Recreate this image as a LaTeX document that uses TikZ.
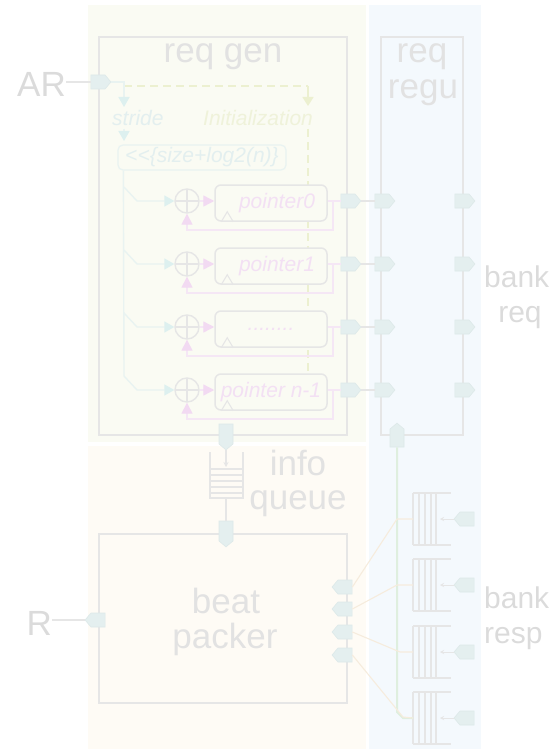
\documentclass[tikz,border=0pt]{standalone}
\usepackage{fontspec}
\setmainfont{Liberation Sans}
\usetikzlibrary{shapes.symbols,arrows.meta,calc}

\definecolor{bgyel}{HTML}{FAFBF3}
\definecolor{bgora}{HTML}{FEFBF5}
\definecolor{bgblu}{HTML}{F4F9FD}
\definecolor{linegray}{HTML}{E6E6E6}
\definecolor{outtext}{HTML}{DBDBDB}
\definecolor{intext}{HTML}{E2E2E2}
\definecolor{portfill}{HTML}{E4EFEF}
\definecolor{portedge}{HTML}{DDE9E9}
\definecolor{cyanhead}{HTML}{DDF0EF}
\definecolor{cyanline}{HTML}{E9F3F1}
\definecolor{cyantext}{HTML}{E3EFEF}
\definecolor{pinkhead}{HTML}{F2DAF2}
\definecolor{pinkline}{HTML}{F5E7F5}
\definecolor{pinktext}{HTML}{F3E0F3}
\definecolor{inittext}{HTML}{EFF2DA}
\definecolor{initline}{HTML}{ECF0D0}
\definecolor{greenline}{HTML}{DFEFDF}
\definecolor{oraline}{HTML}{F6ECDD}

\tikzset{
  bigfont/.style={font=\fontsize{35}{40}\selectfont},
  outlabel/.style={bigfont, text=outtext, inner sep=0pt},
  inlabel/.style={bigfont, text=intext, inner sep=0pt},
  banklabel/.style={font=\fontsize{30}{34}\selectfont, text=outtext, inner sep=0pt},
  smallit/.style={font=\fontsize{21}{24}\selectfont\itshape, inner sep=0pt},
  blockbox/.style={draw=linegray, line width=2pt, inner sep=0pt},
  port/.style={shape=signal, signal pointer angle=100, fill=portfill, draw=portedge,
    line width=0.6pt, minimum width=20pt, minimum height=14pt, inner sep=0pt},
  vport/.style={port, minimum width=14pt, minimum height=20pt},
  reg/.style={draw=linegray, line width=1.5pt, rounded corners=6pt, fill=bgyel,
    minimum width=112pt, minimum height=36pt, inner sep=0pt},
  adder/.style={circle, draw=linegray, line width=1.4pt, minimum size=24pt, inner sep=0pt,
    path picture={\draw[linegray, line width=1.4pt]
      (path picture bounding box.north) -- (path picture bounding box.south)
      (path picture bounding box.west) -- (path picture bounding box.east);}},
  cyanl/.style={draw=cyanline, line width=1.4pt},
  cyanarr/.style={cyanl, -{Triangle[length=10pt,width=11pt,fill=cyanhead,color=cyanhead]}},
  pinkl/.style={draw=pinkline, line width=1.4pt},
  pinkarr/.style={pinkl, -{Triangle[length=11pt,width=11pt,fill=pinkhead,color=pinkhead]}},
  initl/.style={draw=initline, line width=1.5pt},
  grayl/.style={draw=linegray, line width=1.5pt},
  qline/.style={draw=linegray, line width=1.1pt},
  oral/.style={draw=oraline, line width=1.1pt},
}

\begin{document}
\begin{tikzpicture}[x=1pt,y=-1pt]
\useasboundingbox (0,0) rectangle (558,749);

% tinted areas
\fill[bgyel] (88,5) rectangle (366,442);
\fill[bgora] (88,446) rectangle (366,749);
\fill[bgblu] (369,5) rectangle (481,749);

% main blocks
\node[blockbox, minimum width=248pt, minimum height=398pt] (gen) at (223,236) {};
\node[blockbox, minimum width=82pt, minimum height=398pt] (regu) at (422,236) {};
\node[blockbox, minimum width=248pt, minimum height=169pt] (packer) at (223,618.5) {};

% titles
\node[inlabel, anchor=base] (gentitle) at (223,63) {req gen};
\node[inlabel, anchor=base] (regutitle1) at (422,63) {req};
\node[inlabel, anchor=base] (regutitle2) at (423,99) {regu};
\node[inlabel, anchor=base] (packtitle1) at (226,613) {beat};
\node[inlabel, anchor=base] (packtitle2) at (225,648) {packer};
\node[inlabel, anchor=base] (iqtitle1) at (298,475) {info};
\node[inlabel, anchor=base] (iqtitle2) at (298,509) {queue};
\node[banklabel, anchor=base west] (bankreq1) at (484,287) {bank};
\node[banklabel, anchor=base] (bankreq2) at (520,322) {req};
\node[banklabel, anchor=base west] (bankresp1) at (484,608) {bank};
\node[banklabel, anchor=base west] (bankresp2) at (484,643) {resp};

% AR input and stride / initialization path
\node[port, signal to=east] (arport) at (98,82) {};
\node[outlabel, anchor=base east] (arlbl) at (66,97) {AR};
\draw[grayl] (arlbl.east |- arport) -- (arport.west);
\node[smallit, text=cyantext, anchor=base west] (stridetxt) at (112,125) {stride};
\node[smallit, text=inittext, anchor=base west] (inittxt) at (203,125) {Initialization};
\draw[initl, dash pattern=on 8pt off 5pt] (124,86) -- (308,86);
\draw[initl, -{Triangle[length=9pt,width=11pt,fill=initline,color=initline]}] (308,86) -- (308,106);
\draw[initl, dash pattern=on 8pt off 5pt] (308,129) -- (308,377);
\draw[cyanarr] (arport.east) -- (124,82) -- (124,107);

\node[draw=cyanline, line width=1.3pt, rounded corners=5pt, minimum width=168pt, minimum height=25pt,
  inner sep=0pt, smallit, text=cyantext] (shiftbox) at (202,157.5) {<{}<\{size+log2(n)\}};
\draw[cyanarr] (124,129) -- (124,141);
\draw[cyanl] ($(shiftbox.south west)+(6,0)$) -- (124,376);

% pointer registers with adders
\foreach \i/\y/\txt/\tx in {0/201/pointer0/277, 1/264/pointer1/277,
    2/327/{........}/271, 3/390/{pointer n-1}/271} {
  \node[reg] (reg\i) at (271,\y+2) {};
  \node[smallit, text=pinktext] (regtxt\i) at (\tx,\y+2) {\txt};
  \draw[linegray, line width=1.1pt, line join=miter]
    ($(reg\i.south west)+(7,0)$) -- ++(6,-10) -- ++(6,10);
  \node[adder] (add\i) at (187,\y) {};
  \node[port, signal to=east] (go\i) at (348,\y) {};
  \node[port, signal to=east] (ri\i) at (382,\y) {};
  \node[port, signal to=east] (ro\i) at (462,\y) {};
  \draw[cyanarr] (124,\y-14) -- (137,\y) -- (add\i.west);
  \draw[pinkarr] (add\i.east) -- (reg\i.west |- add\i.east);
  \draw[pinkl] (reg\i.east |- add\i.east) -- (go\i.west);
  \draw[pinkarr] (333,\y) -- (333,\y+29) -- (add\i.south |- 0,\y+29) -- (add\i.south);
  \draw[grayl] (go\i.east) -- (ri\i.west);
}

% info queue
\node[vport, signal to=south] (genout) at (226,434) {};
\draw[grayl, -{Stealth[length=5pt,width=5pt]}] (genout.south) -- (226,467);
\draw[qline] (210,452) -- (210,498) -- (243,498) -- (243,452);
\foreach \yy in {469,475,481,487,493} \draw[qline] (210,\yy) -- (243,\yy);
\coordinate (iqbot) at (226,498);
\node[vport, signal to=south] (packin) at (226,531) {};
\draw[grayl] (iqbot) -- (packin.north);

% R output
\node[port, signal to=west] (rport) at (98,620) {};
\node[outlabel, anchor=base east] (rlbl) at (52,635) {R};
\draw[grayl] (rlbl.east |- rport) -- (rport.west);

% beat packer inputs
\foreach \k/\y in {1/587,2/609,3/632,4/655}
  \node[port, signal to=west] (pk\k) at (345,\y) {};

% bank response queues
\foreach \k/\y in {1/519,2/585,3/652,4/718} {
  \draw[qline] (413,\y-26) -- (451,\y-26);
  \draw[qline] (413,\y+26) -- (451,\y+26);
  \foreach \xx in {413,419,425,431,436} \draw[qline] (\xx,\y-26) -- (\xx,\y+26);
  \coordinate (bq\k) at (413,\y);
  \node[port, signal to=west] (bp\k) at (467,\y) {};
  \draw[qline, line width=0.8pt, -{Stealth[length=4pt,width=4pt]}] (bp\k.west) -- (440,\y);
}

% credit return to req regu
\node[vport, signal to=north, minimum height=18pt] (reguout) at (397,438) {};
\draw[greenline, line width=2pt] (reguout.south) -- (397,712) -- (403,718) -- (bq4);

% queues to beat packer
\draw[oral] (pk1.east) -- (397,519) -- (bq1);
\draw[oral] (pk2.east) -- (397,585) -- (bq2);
\draw[oral] (pk3.east) -- (400,652) -- (bq3);
\draw[oral] (pk4.east) -- (403,717) -- (bq4);
\end{tikzpicture}
\end{document}
